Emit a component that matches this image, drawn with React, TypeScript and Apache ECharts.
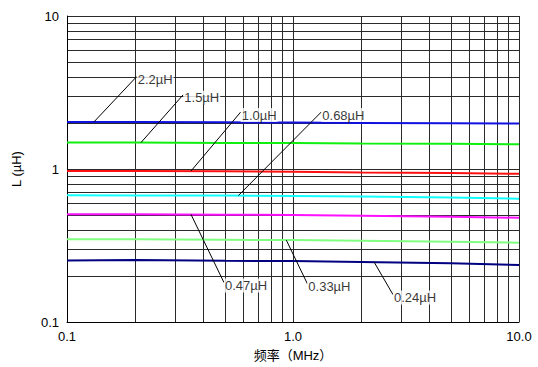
import React, { useEffect, useRef } from "react";
import * as echarts from "echarts";

const freq = [0.1, 0.2, 0.5, 1, 2, 5, 10];
const L220 = [2.03, 2.03, 2.02, 2.01, 2.0, 1.99, 1.98];
const L150 = [1.49, 1.49, 1.48, 1.48, 1.47, 1.46, 1.45];
const L100 = [0.97, 0.97, 0.965, 0.96, 0.95, 0.94, 0.93];
const L068 = [0.673, 0.672, 0.67, 0.665, 0.66, 0.65, 0.64];
const L047 = [0.507, 0.506, 0.503, 0.5, 0.495, 0.487, 0.48];
const L033 = [0.348, 0.347, 0.345, 0.343, 0.34, 0.335, 0.33];
const L024 = [0.252, 0.254, 0.251, 0.25, 0.247, 0.242, 0.236];

const seriesNames = ["2.2µH", "1.5µH", "1.0µH", "0.68µH", "0.47µH", "0.33µH", "0.24µH"];
const seriesValues = [L220, L150, L100, L068, L047, L033, L024];
const seriesColors = ["#1010e0", "#10f010", "#ff1010", "#10ffff", "#ff10ff", "#80ff80", "#000080"];

// leader lines: from point on curve to label anchor
const leaderFrom = [
  [0.1316, 2.03],
  [0.2126, 1.49],
  [0.3537, 0.97],
  [0.573, 0.67],
  [0.3537, 0.505],
  [0.934, 0.343],
  [2.283, 0.247],
];
const leaderTo = [
  [0.2034, 4.02],
  [0.327, 3.06],
  [0.587, 2.357],
  [1.334, 2.357],
  [0.495, 0.181],
  [1.157, 0.178],
  [2.77, 0.151],
];

const minorX = [0.2, 0.3, 0.4, 0.5, 0.6, 0.7, 0.8, 0.9, 2, 3, 4, 5, 6, 7, 8, 9];
const minorY = [0.2, 0.3, 0.4, 0.5, 0.6, 0.7, 0.8, 0.9, 2, 3, 4, 5, 6, 7, 8, 9];

const xTickLabels: Record<string, string> = { "0.1": "0.1", "1": "1.0", "10": "10.0" };
const yTickLabels: Record<string, string> = { "0.1": "0.1", "1": "1", "10": "10" };

const FONT = "'Liberation Sans', Arial, 'Noto Sans CJK SC', sans-serif";

export default function App() {
  const ref = useRef<HTMLDivElement>(null);
  useEffect(() => {
    document.body.style.margin = "0";
    if (!ref.current) return;
    const chart = echarts.init(ref.current, undefined, { renderer: "svg" });
    const gridColor = "#2a2a2a";
    const series: any[] = [];
    series.push({
      type: "line",
      name: "grid",
      data: [],
      silent: true,
      z: 0,
      markLine: {
        silent: true,
        z: 0,
        symbol: ["none", "none"],
        label: { show: false },
        lineStyle: { color: gridColor, width: 1, type: "solid" },
        emphasis: { disabled: true },
        data: [
          ...minorX.map((v) => ({ xAxis: v })),
          ...minorY.map((v) => ({ yAxis: v })),
        ],
      },
    });
    seriesNames.forEach((name, i) => {
      series.push({
        type: "line",
        name,
        data: freq.map((f, j) => [f, seriesValues[i][j]]),
        showSymbol: false,
        symbol: "none",
        lineStyle: { color: seriesColors[i], width: 2 },
        z: 3,
        markLine: {
          silent: true,
          z: 4,
          symbol: ["none", "none"],
          label: { show: false },
          lineStyle: { color: "#000", width: 1, type: "solid" },
          data: [[{ coord: leaderFrom[i] }, { coord: leaderTo[i] }]],
        },
      });
    });
    series.push({
      type: "scatter",
      name: "labels",
      symbolSize: 0,
      z: 10,
      silent: true,
      data: seriesNames.map((n, i) => ({ name: n, value: leaderTo[i] })),
      label: {
        show: true,
        position: "right",
        distance: 0,
        offset: [0, 3],
        formatter: (p: any) => p.name,
        color: "#000",
        fontSize: 13,
        fontFamily: FONT,
        backgroundColor: "#fff",
        padding: [1, 1, 0, 1],
      },
    });
    chart.setOption({
      animation: false,
      backgroundColor: "#fff",
      grid: { left: 67, top: 16, width: 452, height: 310 },
      xAxis: {
        type: "log",
        logBase: 10,
        min: 0.1,
        max: 10,
        name: "频率（MHz）",
        nameLocation: "middle",
        nameGap: 27,
        nameTextStyle: { color: "#000", fontSize: 13, fontFamily: FONT },
        axisLine: { show: true, lineStyle: { color: "#000", width: 1 } },
        axisTick: { show: false },
        axisLabel: {
          color: "#000",
          fontSize: 13,
          fontFamily: FONT,
          margin: 8,
          formatter: (v: number) => xTickLabels[String(v)] ?? "",
        },
        splitLine: { show: true, lineStyle: { color: gridColor, width: 1 } },
        minorTick: { show: false },
      },
      yAxis: {
        type: "log",
        logBase: 10,
        min: 0.1,
        max: 10,
        name: "L (µH)",
        nameLocation: "middle",
        nameRotate: 90,
        nameGap: 44,
        nameTextStyle: { color: "#000", fontSize: 13, fontFamily: FONT },
        axisLine: { show: true, lineStyle: { color: "#000", width: 1 } },
        axisTick: { show: false },
        axisLabel: {
          color: "#000",
          fontSize: 13,
          fontFamily: FONT,
          margin: 8,
          formatter: (v: number) => yTickLabels[String(v)] ?? "",
        },
        splitLine: { show: true, lineStyle: { color: gridColor, width: 1 } },
      },
      series,
    });
    return () => chart.dispose();
  }, []);
  return <div ref={ref} style={{ width: 538, height: 367 }} />;
}
